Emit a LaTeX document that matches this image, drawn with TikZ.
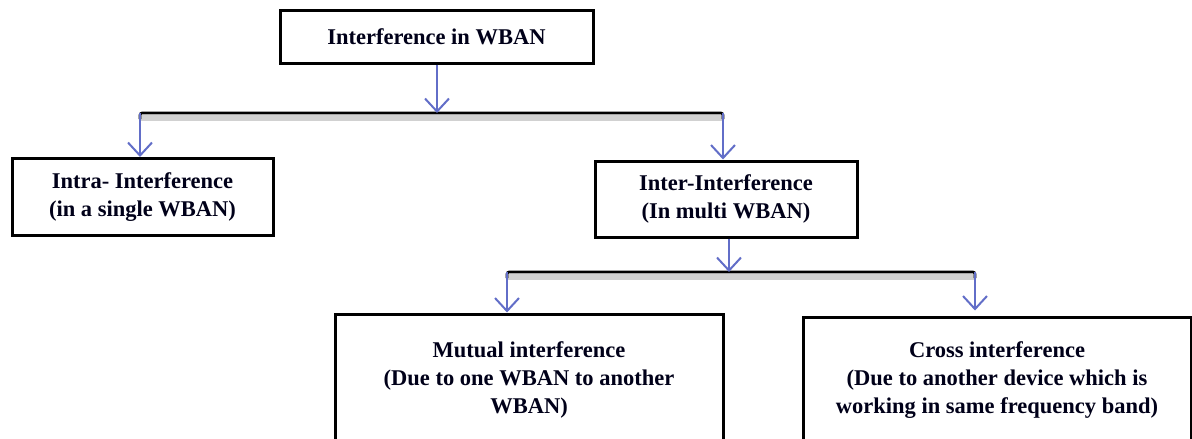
\documentclass[tikz,border=0pt]{standalone}
\usepackage{fontspec}
\setmainfont{Liberation Serif}
\usetikzlibrary{arrows.meta}
\definecolor{arrowblue}{RGB}{98,110,200}
\tikzset{
  box/.style={draw=black, line width=3pt, fill=white, inner sep=0pt, align=center,
    font=\fontsize{22.5}{28}\selectfont\bfseries, text=black!90!blue},
  bar/.style={draw=black, line width=2.6pt},
  barshadow/.style={draw=black!18, line width=6pt},
  arr/.style={draw=arrowblue, line width=2pt,
    -{Straight Barb[length=13pt,width=24pt,line width=2pt]}},
}
\begin{document}
\begin{tikzpicture}[x=1pt,y=-1pt]
\useasboundingbox (0,0) rectangle (1192,439);
\clip (0,0) rectangle (1192,439);
\fill[white] (0,0) rectangle (1192,439);

% boxes
\node[box, minimum width=313pt, minimum height=53pt] (root) at (436.5,36.5) {Interference in WBAN};
\node[box, minimum width=261pt, minimum height=77pt] (intra) at (142.5,197) {Intra- Interference\\(in a single WBAN)};
\node[box, minimum width=262pt, minimum height=76pt] (inter) at (726,199) {Inter-Interference\\(In multi WBAN)};
\node[box, minimum width=388pt, minimum height=132pt] (mutual) at (529,380) {Mutual interference\\(Due to one WBAN to another\\WBAN)};
\node[box, minimum width=388pt, minimum height=126pt] (cross) at (997,380) {Cross interference\\(Due to another device which is\\working in same frequency band)};

% branch points
\coordinate (j1) at (437,113);
\coordinate (j1l) at (140,113);
\coordinate (j1r) at (723,113);
\coordinate (j2) at (729,272);
\coordinate (j2l) at (507,272);
\coordinate (j2r) at (975,272);

% bars with soft shadow underneath
\draw[barshadow] ([yshift=-5pt]j1l) -- ([yshift=-5pt]j1r);
\draw[barshadow] ([yshift=-5pt]j2l) -- ([yshift=-5pt]j2r);
\draw[bar, rounded corners=2pt] ([yshift=-6pt]j1l) -- (j1l) -- (j1r) -- ([yshift=-6pt]j1r);
\draw[bar, rounded corners=2pt] ([yshift=-6pt]j2l) -- (j2l) -- (j2r) -- ([yshift=-6pt]j2r);

% arrows
\draw[arr] (root.south -| j1) -- (j1);
\draw[arr] (j1l) -- (j1l |- intra.north);
\draw[arr] (j1r) -- (j1r |- inter.north);
\draw[arr] (inter.south -| j2) -- (j2);
\draw[arr] (j2l) -- (j2l |- mutual.north);
\draw[arr] (j2r) -- ([yshift=5pt]j2r |- cross.north);
\end{tikzpicture}
\end{document}
